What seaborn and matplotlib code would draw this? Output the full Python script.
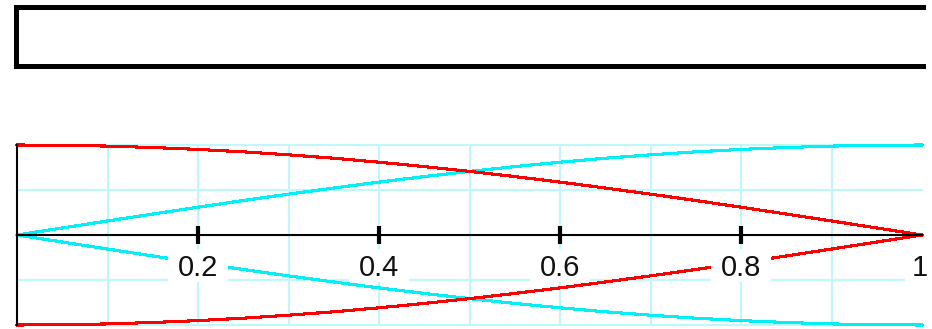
import matplotlib
matplotlib.use("Agg")
import matplotlib.pyplot as plt
import matplotlib.transforms as mtransforms
from matplotlib.patches import Rectangle
import seaborn as sns
import pandas as pd

# ---- data ----
x_vals = [0.00, 0.05, 0.10, 0.15, 0.20, 0.25, 0.30, 0.35, 0.40, 0.45, 0.50,
          0.55, 0.60, 0.65, 0.70, 0.75, 0.80, 0.85, 0.90, 0.95, 1.00]
red_upper = [1.000, 0.997, 0.988, 0.972, 0.951, 0.924, 0.891, 0.853, 0.809, 0.760, 0.707,
             0.649, 0.588, 0.522, 0.454, 0.383, 0.309, 0.233, 0.156, 0.078, 0.000]
red_lower = [-1.000, -0.997, -0.988, -0.972, -0.951, -0.924, -0.891, -0.853, -0.809, -0.760, -0.707,
             -0.649, -0.588, -0.522, -0.454, -0.383, -0.309, -0.233, -0.156, -0.078, 0.000]
cyan_upper = [0.000, 0.078, 0.156, 0.233, 0.309, 0.383, 0.454, 0.522, 0.588, 0.649, 0.707,
              0.760, 0.809, 0.853, 0.891, 0.924, 0.951, 0.972, 0.988, 0.997, 1.000]
cyan_lower = [0.000, -0.078, -0.156, -0.233, -0.309, -0.383, -0.454, -0.522, -0.588, -0.649, -0.707,
              -0.760, -0.809, -0.853, -0.891, -0.924, -0.951, -0.972, -0.988, -0.997, -1.000]

tick_pos = [0.2, 0.4, 0.6, 0.8, 1.0]
tick_labels = ["0.2", "0.4", "0.6", "0.8", "1"]
grid_x = [0.1, 0.2, 0.3, 0.4, 0.5, 0.6, 0.7, 0.8, 0.9]
grid_y = [-1.0, -0.5, 0.5, 1.0]

sns.set_style("white")
plt.rcParams["font.family"] = ["Liberation Sans", "DejaVu Sans"]

W, H = 932, 329
fig = plt.figure(figsize=(W / 100, H / 100), dpi=100)
fig.patch.set_facecolor("white")

def fx(px):
    return px / W

def fy(py):
    return (H - py) / H

# ---- empty framed box at the top ----
box = fig.add_axes([fx(15.5), fy(66), fx(923) - fx(15.5), fy(6.5) - fy(66)])
box.set_xticks([]); box.set_yticks([])
for side in ["top", "bottom", "left"]:
    box.spines[side].set_linewidth(3.6)
    box.spines[side].set_color("black")
box.spines["right"].set_visible(False)
box.patch.set_alpha(0)

# ---- main plot ----
ax = fig.add_axes([fx(17), fy(325), fx(922) - fx(17), fy(145) - fy(325)])
ax.set_xlim(0, 1)
ax.set_ylim(-1, 1)
for s in ax.spines.values():
    s.set_visible(False)
ax.set_xticks(grid_x)
ax.set_yticks(grid_y)
ax.set_xticklabels([]); ax.set_yticklabels([])
ax.tick_params(length=0)
ax.grid(True, color="#bff8fb", linewidth=1.5)
for gl in ax.get_xgridlines() + ax.get_ygridlines():
    gl.set_clip_on(False)
ax.set_axisbelow(True)

df = pd.DataFrame({"x": x_vals, "red_upper": red_upper, "red_lower": red_lower,
                   "cyan_upper": cyan_upper, "cyan_lower": cyan_lower})
for col, color in [("cyan_upper", "#00f0f8"), ("cyan_lower", "#00f0f8"),
                   ("red_upper", "#ff0000"), ("red_lower", "#ff0000")]:
    sns.lineplot(data=df, x="x", y=col, ax=ax, color=color, linewidth=1.5,
                 antialiased=False, clip_on=False, zorder=3)
ax.set_xlabel(""); ax.set_ylabel("")

# axes lines
ax.plot([0, 1], [0, 0], color="black", linewidth=1.5, zorder=4, clip_on=False)
ax.plot([0, 0], [-1, 1], color="black", linewidth=1.5, zorder=4, clip_on=False)

# tick marks
ax.vlines(tick_pos[:-1], -0.1, 0.1, color="black", linewidth=3, zorder=6)

# white backgrounds behind tick labels, then the labels
bg_half = 0.033
bg_bottom, bg_top = -0.52, -0.15
for pos, lab in zip(tick_pos, tick_labels):
    if pos >= 1.0:
        ax.add_patch(Rectangle((pos - 0.019, bg_bottom), 0.04, bg_top - bg_bottom,
                               facecolor="white", edgecolor="none", zorder=5, clip_on=False))
        tr = mtransforms.offset_copy(ax.transData, fig=fig, x=6, y=0, units="dots")
        ax.text(pos, -0.455, lab, ha="right", va="baseline", fontsize=21,
                color="#111111", transform=tr, zorder=5.5)
    else:
        ax.add_patch(Rectangle((pos - bg_half, bg_bottom), 2 * bg_half, bg_top - bg_bottom,
                               facecolor="white", edgecolor="none", zorder=5, clip_on=False))
        ax.text(pos, -0.455, lab, ha="center", va="baseline", fontsize=21,
                color="#111111", zorder=5.5)

fig.savefig("out.png", dpi=100, facecolor="white")
